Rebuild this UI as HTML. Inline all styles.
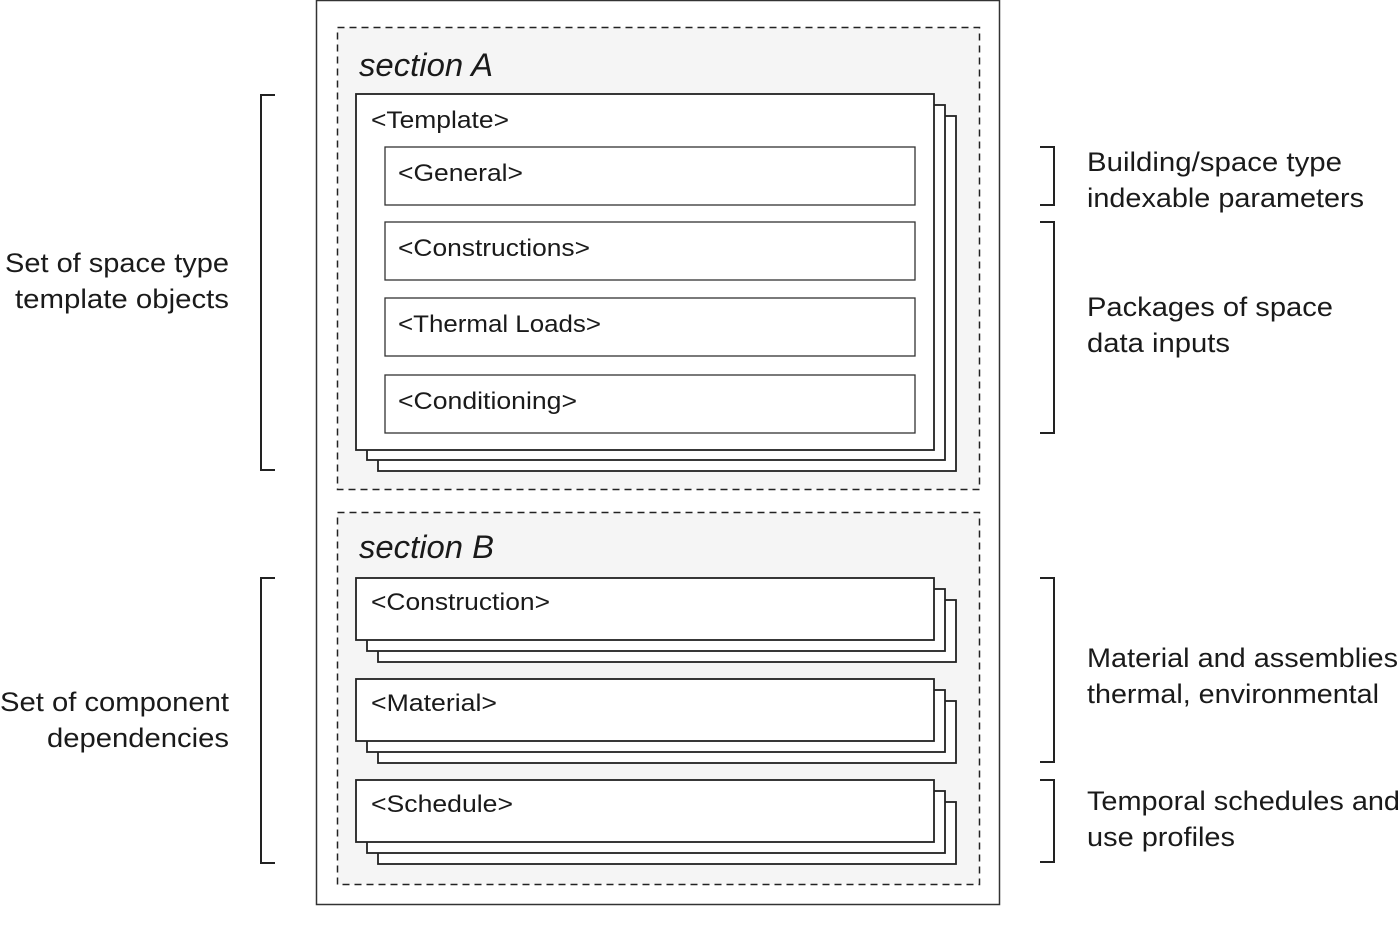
<!DOCTYPE html>
<html><head><meta charset="utf-8"><style>
html,body{margin:0;padding:0;background:#fff;}
svg{display:block;}
text{font-family:"Liberation Sans",sans-serif;fill:#1a1a1a;}
.b{font-size:24px;}
.l{font-size:27px;}
.s{font-size:32px;font-style:italic;}
</style></head><body>
<svg width="1400" height="944" viewBox="0 0 1400 944" xmlns="http://www.w3.org/2000/svg">
<rect x="316.5" y="0.5" width="683" height="904" fill="#fff" stroke="#333" stroke-width="1.5"/>
<rect x="337.5" y="27.5" width="642" height="462" fill="#f5f5f5" stroke="#222" stroke-width="1.5" stroke-dasharray="7,5"/>
<rect x="337.5" y="512.5" width="642" height="372" fill="#f5f5f5" stroke="#222" stroke-width="1.5" stroke-dasharray="7,5"/>
<text class="s" x="359" y="76" textLength="134" lengthAdjust="spacingAndGlyphs">section A</text>
<text class="s" x="359" y="558" textLength="135" lengthAdjust="spacingAndGlyphs">section B</text>
<g fill="#fff" stroke="#222" stroke-width="1.8">
<rect x="378" y="116" width="578" height="355"/>
<rect x="367" y="105" width="578" height="355"/>
<rect x="356" y="94" width="578" height="356"/>
<rect x="378" y="600" width="578" height="62"/>
<rect x="367" y="589" width="578" height="62"/>
<rect x="356" y="578" width="578" height="62"/>
<rect x="378" y="701" width="578" height="62"/>
<rect x="367" y="690" width="578" height="62"/>
<rect x="356" y="679" width="578" height="62"/>
<rect x="378" y="802" width="578" height="62"/>
<rect x="367" y="791" width="578" height="62"/>
<rect x="356" y="780" width="578" height="62"/>
</g>
<g fill="#fff" stroke="#333" stroke-width="1.3">
<rect x="385" y="147" width="530" height="58"/>
<rect x="385" y="222" width="530" height="58"/>
<rect x="385" y="298" width="530" height="58"/>
<rect x="385" y="375" width="530" height="58"/>
</g>
<text class="b" x="371" y="128" textLength="138" lengthAdjust="spacingAndGlyphs">&lt;Template&gt;</text>
<text class="b" x="398" y="181" textLength="125" lengthAdjust="spacingAndGlyphs">&lt;General&gt;</text>
<text class="b" x="398" y="256" textLength="192" lengthAdjust="spacingAndGlyphs">&lt;Constructions&gt;</text>
<text class="b" x="398" y="332" textLength="203" lengthAdjust="spacingAndGlyphs">&lt;Thermal Loads&gt;</text>
<text class="b" x="398" y="409" textLength="179" lengthAdjust="spacingAndGlyphs">&lt;Conditioning&gt;</text>
<text class="b" x="371" y="610" textLength="179" lengthAdjust="spacingAndGlyphs">&lt;Construction&gt;</text>
<text class="b" x="371" y="711" textLength="126" lengthAdjust="spacingAndGlyphs">&lt;Material&gt;</text>
<text class="b" x="371" y="812" textLength="142" lengthAdjust="spacingAndGlyphs">&lt;Schedule&gt;</text>
<g fill="none" stroke="#222" stroke-width="2">
<path d="M275 95 H261 V470 H275"/>
<path d="M275 578 H261 V863 H275"/>
<path d="M1040 147 H1054 V205 H1040"/>
<path d="M1040 222 H1054 V433 H1040"/>
<path d="M1040 578 H1054 V762 H1040"/>
<path d="M1040 780 H1054 V862 H1040"/>
</g>
<text class="l" x="5" y="272" textLength="224" lengthAdjust="spacingAndGlyphs">Set of space type</text>
<text class="l" x="15" y="308" textLength="214" lengthAdjust="spacingAndGlyphs">template objects</text>
<text class="l" x="0" y="711" textLength="229" lengthAdjust="spacingAndGlyphs">Set of component</text>
<text class="l" x="47" y="747" textLength="182" lengthAdjust="spacingAndGlyphs">dependencies</text>
<text class="l" x="1087" y="171" textLength="255" lengthAdjust="spacingAndGlyphs">Building/space type</text>
<text class="l" x="1087" y="207" textLength="277" lengthAdjust="spacingAndGlyphs">indexable parameters</text>
<text class="l" x="1087" y="316" textLength="246" lengthAdjust="spacingAndGlyphs">Packages of space</text>
<text class="l" x="1087" y="352" textLength="143" lengthAdjust="spacingAndGlyphs">data inputs</text>
<text class="l" x="1087" y="667" textLength="311" lengthAdjust="spacingAndGlyphs">Material and assemblies</text>
<text class="l" x="1087" y="703" textLength="292" lengthAdjust="spacingAndGlyphs">thermal, environmental</text>
<text class="l" x="1087" y="810" textLength="313" lengthAdjust="spacingAndGlyphs">Temporal schedules and</text>
<text class="l" x="1087" y="846" textLength="148" lengthAdjust="spacingAndGlyphs">use profiles</text>
</svg>
</body></html>
